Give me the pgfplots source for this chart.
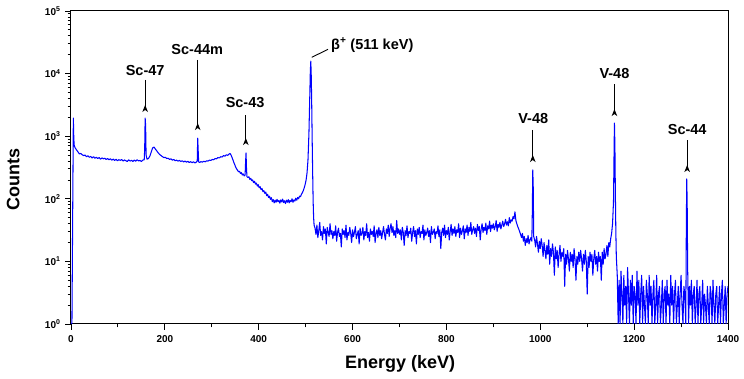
\documentclass[border=0pt]{standalone}
\usepackage{pgfplots}
\pgfplotsset{compat=1.18}
\usepackage{fontspec}
\setmainfont{Liberation Sans}
\usetikzlibrary{arrows.meta}
\definecolor{specblue}{RGB}{0,0,255}
\begin{document}
\begin{tikzpicture}
\begin{axis}[
  at={(0,0)}, anchor=south west,
  scale only axis, width=657pt, height=313pt,
  xmin=0, xmax=1400, ymin=1, ymax=100000, ymode=log,
  xtick={0,200,400,600,800,1000,1200,1400},
  xticklabels={0,200,400,600,800,1000,1200,1400},
  minor xtick={100,300,500,700,900,1100,1300},
  ytick={1,10,100,1000,10000,100000},
  yticklabels={10\textsuperscript{0},10\textsuperscript{1},10\textsuperscript{2},10\textsuperscript{3},10\textsuperscript{4},10\textsuperscript{5}},
  tick align=outside, tick pos=left,
  major tick length=6pt, minor tick length=3.5pt,
  axis line style={line width=1pt},
  every tick/.style={black, line width=0.9pt},
  ticklabel style={font=\bfseries\fontsize{10}{12}\selectfont},
  xticklabel style={yshift=-2pt},
  yticklabel style={xshift=-1pt},
  xlabel={Energy (keV)}, ylabel={Counts},
  xlabel style={font=\bfseries\fontsize{18}{21}\selectfont, at={(axis description cs:0.5008,-0.128)}, anchor=center},
  ylabel style={font=\bfseries\fontsize{18}{21}\selectfont, at={(axis description cs:-0.088,0.463)}, anchor=center},
  clip=true,
]
\addplot[color=specblue, line width=1.05pt, line join=round] coordinates {
(0,1)(2,1)(5,1950)(6,900)(7,700)(9,650)(12,600)(15,560)(18,520)
(21,530)(24,505)(27,490)(30,500)(33,470)(36,485)(39,460)(42,475)(45,450)(48,470)
(51,445)(54,460)(57,440)(60,455)(63,430)(66,450)(69,435)(72,445)(75,425)(78,440)
(81,420)(84,435)(87,415)(90,430)(93,410)(96,428)(99,405)(102,422)(105,410)(108,425)
(111,400)(114,418)(117,405)(120,395)(123,420)(126,400)(129,412)(132,395)(135,415)(138,398)
(141,420)(144,402)(147,410)(150,395)(153,415)(156,420)(157,600)(158,1950)(159,1500)(160,500)
(162,430)(165,440)(168,480)(171,560)(174,650)(177,670)(180,620)(183,580)(186,540)(189,510)
(192,490)(195,470)(198,455)(201,460)(204,440)(207,445)(210,425)(213,435)(216,415)(219,425)
(222,405)(225,415)(228,400)(231,410)(234,395)(237,405)(240,388)(243,400)(246,385)(249,398)
(252,380)(255,392)(258,378)(261,390)(264,375)(267,385)(269,400)(270,930)(271,600)(272,390)
(274,380)(277,392)(280,385)(283,398)(286,390)(289,405)(292,400)(295,415)(298,410)(301,425)
(304,420)(307,440)(310,435)(313,455)(316,450)(319,470)(322,465)(325,490)(328,480)(331,505)
(334,495)(337,520)(339,530)(341,500)(343,460)(345,420)(347,380)(349,350)(351,320)(353,300)
(355,285)(357,270)(359,275)(361,255)(363,262)(365,240)(367,250)(369,232)(371,240)(372,380)
(373,540)(374,300)(375,225)(377,218)(379,225)(381,205)(383,212)(385,195)(387,200)(389,182)
(391,190)(393,172)(395,178)(397,160)(399,168)(401,150)(403,156)(405,140)(407,146)(409,130)
(411,135)(413,122)(415,128)(417,112)(419,118)(421,105)(423,110)(425,98)(427,104)(429,90)
(431,97)(433,86)(435,95)(437,88)(439,98)(441,90)(443,94)(445,85)(447,96)(449,89)
(451,99)(453,87)(455,93)(457,84)(459,95)(461,88)(463,97)(465,86)(467,94)(469,90)
(471,100)(473,88)(475,96)(477,92)(479,102)(481,95)(483,105)(485,100)(487,110)(489,108)
(491,118)(493,125)(495,135)(497,150)(499,170)(501,200)(503,260)(505,420)(507,1100)(509,5000)
(510,11000)(511,15800)(512,9000)(513,3000)(514,800)(515,250)(516,90)(517,50)(518,38)
(520,34)(522,27)(524,38)(526,24)(528,31)(530,42)(532,26)(534,30)(536,22)(538,36)
(540,28)(542,33)(544,19)(546,35)(548,29)(550,25)(552,40)(554,27)(556,31)(558,23)
(560,30)(562,26)(564,37)(566,21)(568,29)(570,34)(572,25)(574,28)(576,17)(578,33)
(580,27)(582,31)(584,24)(586,38)(588,22)(590,29)(592,26)(594,35)(596,28)(598,20)
(600,32)(602,25)(604,29)(606,36)(608,23)(610,27)(612,31)(614,19)(616,34)(618,26)
(620,28)(622,35)(624,22)(626,30)(628,26)(630,40)(632,24)(634,29)(636,21)(638,33)
(640,27)(642,30)(644,25)(646,37)(648,20)(650,28)(652,32)(654,24)(656,35)(658,26)
(660,31)(662,23)(664,29)(666,36)(668,27)(670,22)(672,33)(674,28)(676,38)(678,25)
(680,34)(682,40)(684,29)(686,36)(688,26)(690,31)(692,24)(694,45)(696,28)(698,33)
(700,27)(702,32)(704,22)(706,35)(708,29)(710,18)(712,31)(714,26)(716,37)(718,24)
(720,30)(722,28)(724,34)(726,21)(728,29)(730,36)(732,25)(734,31)(736,19)(738,33)
(740,27)(742,35)(744,24)(746,30)(748,28)(750,38)(752,22)(754,32)(756,26)(758,29)
(760,34)(762,25)(764,31)(766,20)(768,36)(770,27)(772,29)(774,33)(776,23)(778,30)
(780,28)(782,37)(784,25)(786,32)(788,16)(790,29)(792,34)(794,26)(796,38)(798,24)
(800,31)(802,27)(804,35)(806,22)(808,30)(810,39)(812,26)(814,33)(816,28)(818,36)
(820,25)(822,32)(824,29)(826,40)(828,24)(830,34)(832,27)(834,31)(836,37)(838,23)
(840,33)(842,29)(844,38)(846,26)(848,35)(850,30)(852,42)(854,27)(856,32)(858,36)
(860,28)(862,34)(864,25)(866,39)(868,31)(870,36)(872,22)(874,33)(876,40)(878,29)
(880,35)(882,31)(884,41)(886,27)(888,37)(890,33)(892,44)(894,30)(896,38)(898,34)
(900,40)(902,32)(904,36)(906,45)(908,30)(910,39)(912,35)(914,42)(916,33)(918,38)
(920,44)(922,36)(924,40)(926,47)(928,38)(930,43)(932,37)(934,50)(936,41)(938,46)
(940,44)(942,52)(944,48)(946,62)(948,45)(950,40)(952,36)(954,33)(956,30)(958,27)
(960,24)(962,28)(964,21)(966,25)(968,18)(970,23)(972,20)(974,26)(976,19)(978,22)
(980,24)(982,21)(983,60)(984,290)(985,150)(986,25)
(988,22)(990,17)(992,25)(994,19)(996,14)(998,21)(1000,16)(1002,23)(1004,18)(1006,12)
(1008,20)(1010,15)(1012,11)(1014,18)(1016,13)(1018,22)(1020,9)(1022,16)(1024,12)(1026,19)
(1028,14)(1030,6)(1032,17)(1034,11)(1036,15)(1038,8)(1040,13)(1042,18)(1044,10)(1046,14)
(1048,12)(1050,16)(1052,4)(1054,13)(1056,9)(1058,15)(1060,11)(1062,7)(1064,14)(1066,10)
(1068,13)(1070,8)(1072,16)(1074,11)(1076,5)(1078,12)(1080,9)(1082,14)(1084,10)(1086,15)
(1088,11)(1090,7)(1092,13)(1094,9)(1096,15)(1098,10)(1100,3)(1102,12)(1104,8)(1106,14)
(1108,10)(1110,13)(1112,6)(1114,11)(1116,15)(1118,9)(1120,12)(1122,7)(1124,14)(1126,10)
(1128,12)(1130,5)(1132,14)(1134,9)(1136,16)(1138,11)(1140,13)(1142,18)(1144,12)(1146,20)
(1148,17)(1150,23)(1152,28)(1154,40)(1156,90)(1157,400)(1158,1620)(1159,700)(1160,120)(1161,30)
(1162,12)(1164,6)(1166,1)
(1168,5)(1170,1)(1172,7)(1174,3)(1176,1)(1178,6)(1180,2)(1182,4)(1184,1)(1186,8)
(1188,3)(1190,1)(1192,5)(1194,2)(1196,6)(1198,1)(1200,4)(1202,3)(1204,1)(1206,7)
(1208,2)(1210,5)(1212,1)(1214,3)(1216,6)(1218,1)(1220,4)(1222,2)(1224,1)(1226,5)
(1228,3)(1230,1)(1232,6)(1234,2)(1236,4)(1238,1)(1240,3)(1242,5)(1244,1)(1246,2)
(1248,6)(1250,1)(1252,3)(1254,4)(1256,1)(1258,2)(1260,5)(1262,1)(1264,3)(1266,4)
(1268,1)(1270,5)(1272,2)(1274,3)(1276,1)(1278,6)(1280,2)(1282,4)(1284,1)(1286,3)
(1288,5)(1290,1)(1292,2)(1294,4)(1296,1)(1298,3)(1300,6)(1302,2)(1304,1)(1306,4)
(1308,3)(1310,1)(1311,20)(1312,208)(1313,90)(1314,8)(1316,1)
(1318,4)(1320,2)(1322,5)(1324,1)(1326,3)(1328,4)(1330,1)(1332,2)(1334,5)(1336,1)
(1338,3)(1340,4)(1342,1)(1344,2)(1346,5)(1348,1)(1350,3)(1352,2)(1354,1)(1356,4)
(1358,2)(1360,1)(1362,4)(1364,3)(1366,1)(1368,5)(1370,2)(1372,1)(1374,3)(1376,4)
(1378,1)(1380,2)(1382,4)(1384,1)(1386,3)(1388,5)(1390,1)(1392,2)(1394,4)(1396,1)(1398,3)(1400,4)
};
% annotations
\tikzset{lab/.style={font=\bfseries\fontsize{14.5}{17}\selectfont, inner sep=0pt},
         arr/.style={black, line width=1pt, -{Stealth[reversed,length=7pt,width=5.5pt,inset=2pt]}}}
\node[lab] at (axis cs:158,11400) {Sc-47};
\draw[arr] (axis cs:158,7910) -- (axis cs:158,2440);
\node[lab] at (axis cs:269,24700) {Sc-44m};
\draw[arr] (axis cs:270,16500) -- (axis cs:270,1256);
\node[lab] at (axis cs:371,3390) {Sc-43};
\draw[arr] (axis cs:372.5,2180) -- (axis cs:372.5,723);
\node[lab] at (axis cs:985,1950) {V-48};
\draw[arr] (axis cs:984,1256) -- (axis cs:984,387);
\node[lab] at (axis cs:1158,10200) {V-48};
\draw[arr] (axis cs:1158,6820) -- (axis cs:1158,2100);
\node[lab] at (axis cs:1313,1300) {Sc-44};
\draw[arr] (axis cs:1313,869) -- (axis cs:1313,268);
\draw[black, line width=0.9pt] (axis cs:513,18200) -- (axis cs:547.6,24400);
\node[lab, anchor=west] at (axis cs:554,28600) {β\textsuperscript{+} (511 keV)};
\end{axis}
\pgfresetboundingbox
\useasboundingbox (-71pt,-55pt) rectangle (673pt,324pt);
\end{tikzpicture}
\end{document}
